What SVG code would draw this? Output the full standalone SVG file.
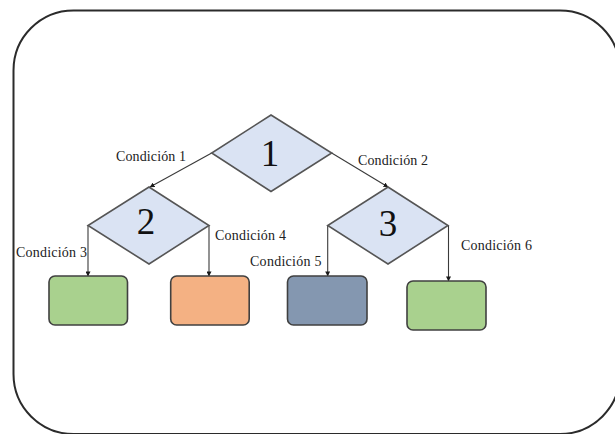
<svg xmlns="http://www.w3.org/2000/svg" width="615" height="434" viewBox="0 0 615 434">
  <style>
    .frame { fill: #ffffff; stroke: #2b2b2b; stroke-width: 2; }
    .decision { fill: #dae3f3; stroke: #555555; stroke-width: 1.6; }
    .leaf { stroke: #404040; stroke-width: 1.6; }
    .green { fill: #a9d18e; }
    .orange { fill: #f4b183; }
    .slate { fill: #8497b0; }
    .edge { fill: none; stroke: #3a3a3a; stroke-width: 1.1; marker-end: url(#tip); }
    .num { font-family: "Liberation Serif", "Times New Roman", serif; font-size: 37px; fill: #111111; text-anchor: middle; }
    .cond { font-family: "Liberation Serif", "Times New Roman", serif; font-size: 14px; fill: #222222; }
  </style>
  <defs>
    <marker id="tip" viewBox="0 0 6 6" refX="5.5" refY="3" markerWidth="5" markerHeight="5" orient="auto" markerUnits="userSpaceOnUse">
      <path d="M0,0 L6,3 L0,6 z" fill="#1a1a1a"/>
    </marker>
  </defs>

  <rect class="frame" x="13.5" y="10.5" width="606.5" height="423.5" rx="60" ry="60"/>

  <g id="connectors">
    <line class="edge" x1="211.7" y1="153" x2="150" y2="187"/>
    <line class="edge" x1="331.7" y1="153" x2="388" y2="187"/>
    <line class="edge" x1="88" y1="225" x2="88" y2="276"/>
    <line class="edge" x1="209" y1="225" x2="209" y2="276"/>
    <line class="edge" x1="327.7" y1="226" x2="327.7" y2="276"/>
    <line class="edge" x1="448.5" y1="225" x2="448.5" y2="281"/>
  </g>

  <g id="decision-1">
    <polygon class="decision" points="271,115 331.7,153 271,191.5 211.7,153"/>
    <text class="num" x="270" y="166">1</text>
  </g>
  <g id="decision-2">
    <polygon class="decision" points="149,187 209,225.5 149,264 88,225.5"/>
    <text class="num" x="146" y="234">2</text>
  </g>
  <g id="decision-3">
    <polygon class="decision" points="388,187 448,225.5 388,264 327.7,225.5"/>
    <text class="num" x="388" y="236">3</text>
  </g>

  <g id="leaf-1"><rect class="leaf green" x="49" y="276" width="78.5" height="49" rx="6"/></g>
  <g id="leaf-2"><rect class="leaf orange" x="170.7" y="276" width="78.5" height="49" rx="6"/></g>
  <g id="leaf-3"><rect class="leaf slate" x="287.5" y="276" width="79.5" height="49" rx="6"/></g>
  <g id="leaf-4"><rect class="leaf green" x="407" y="281" width="79" height="49" rx="6"/></g>

  <g id="labels">
    <text class="cond" x="116" y="161" textLength="70">Condición 1</text>
    <text class="cond" x="358" y="165" textLength="70">Condición 2</text>
    <text class="cond" x="16" y="256.5" textLength="71">Condición 3</text>
    <text class="cond" x="215" y="240" textLength="71">Condición 4</text>
    <text class="cond" x="250" y="265.5" textLength="71.5">Condición 5</text>
    <text class="cond" x="461" y="249.5" textLength="71">Condición 6</text>
  </g>
</svg>
